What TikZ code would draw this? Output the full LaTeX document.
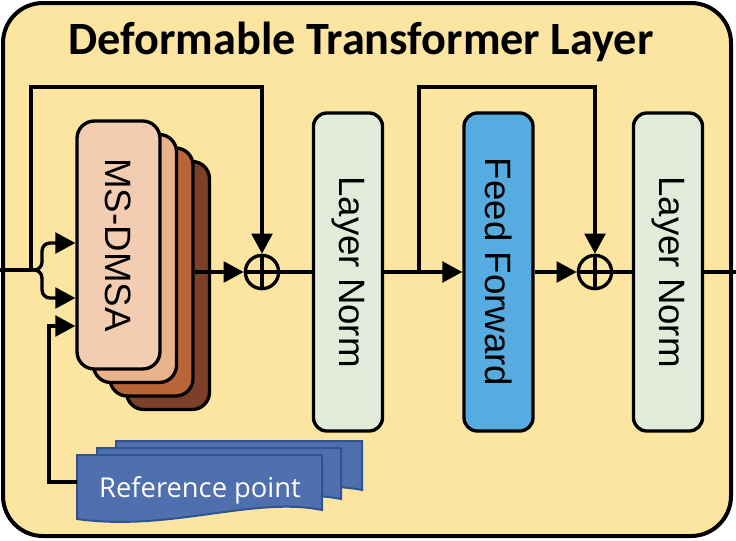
\documentclass[tikz,border=0pt]{standalone}
\usepackage{fontspec}
\setmainfont{Liberation Sans}
\newfontfamily\titlefont{Carlito}
\newfontfamily\reffont{Open Sans}
\usepackage{graphicx}
\usetikzlibrary{arrows.meta}
\definecolor{bg}{HTML}{FBE5A1}
\definecolor{msA}{HTML}{F3CDB2}
\definecolor{msB}{HTML}{E9B48B}
\definecolor{msC}{HTML}{B96538}
\definecolor{msD}{HTML}{7B4027}
\definecolor{lnfill}{HTML}{E2EBD9}
\definecolor{fffill}{HTML}{56ACE0}
\definecolor{reffill}{HTML}{4F6FAF}
\definecolor{refdraw}{HTML}{2F5494}
\tikzset{
  conn/.style={line width=2.5pt},
  arr/.style={conn,-{Triangle[length=15pt,width=15.5pt]}},
  lnbox/.style={draw,line width=2.5pt,rounded corners=10pt,fill=lnfill,
    minimum width=51.75pt,minimum height=238.5pt,inner sep=0pt,
    font=\fontsize{27.5}{30}\selectfont},
  msbox/.style={draw,line width=2.5pt,rounded corners=13pt,
    minimum width=62.25pt,minimum height=186pt,inner sep=0pt,
    font=\fontsize{27.5}{30}\selectfont},
  plusnode/.style={circle,draw,line width=2.5pt,minimum size=25pt,inner sep=0pt},
  refbox/.style={fill=reffill,draw=refdraw,line width=1.5pt,line join=miter},
}
\newcommand\docbox[4]{%
  \filldraw[refbox] (#1,#2) -- (#3,#2) -- (#3,#4-9)
    .. controls ({#3-0.28*(#3-#1)},#4-23) and ({#1+0.38*(#3-#1)},#4+13) .. (#1,#4) -- cycle;}
\begin{document}
\begin{tikzpicture}[x=0.75pt,y=-0.75pt]
\useasboundingbox (0,0) rectangle (736,540);
% frame
\draw[line width=3pt,fill=bg,rounded corners=30pt] (3,3) rectangle (731,536);
\node[anchor=base,font=\titlefont\bfseries\fontsize{34.7}{40}\selectfont] (title) at (361,54) {Deformable Transformer Layer};
% MS-DMSA stack
\node[msbox,fill=msD] (ms4) at (168,285.5) {};
\node[msbox,fill=msC] (ms3) at (151.5,272) {};
\node[msbox,fill=msB] (ms2) at (135,258.5) {};
\node[msbox,fill=msA] (ms1) at (118.5,245) {\rotatebox{-90}{MS-DMSA}};
% reference point stack
\docbox{116}{441}{362}{499}
\docbox{97}{448}{341}{508}
\docbox{77}{455}{322}{519}
\node[anchor=base,text=white,font=\reffont\fontsize{20.5}{24}\selectfont] (rp) at (200,497) {Reference point};
% main boxes
\node[lnbox] (ln1) at (348,272) {\rotatebox{-90}{Layer Norm}};
\node[lnbox,fill=fffill] (ff) at (498.5,272) {\rotatebox{-90}{Feed Forward}};
\node[lnbox] (ln2) at (668,272) {\rotatebox{-90}{Layer Norm}};
% adders
\node[plusnode] (p1) at (262,272) {};
\draw[conn] (p1.north) -- (p1.south) (p1.west) -- (p1.east);
\node[plusnode] (p2) at (595,272) {};
\draw[conn] (p2.north) -- (p2.south) (p2.west) -- (p2.east);
% coordinates
\coordinate (in) at (0,270);
\coordinate (j1) at (31,270);
\coordinate (t1) at (31,87);
\coordinate (bu) at (42,243);
\coordinate (bd) at (42,298);
\coordinate (rpl) at (77,482);
\coordinate (rl) at (49,482);
\coordinate (rt) at (49,326);
\coordinate (j2) at (419,272);
\coordinate (t2) at (419,87);
\coordinate (out) at (736,272);
% connectors
\draw[conn] (in) -- (j1);
\draw[arr] (j1) -- (t1) -| (p1.north);
\draw[arr,rounded corners=6pt] (j1) -- (bu |- j1) -- (bu) -- (bu -| ms1.west);
\draw[arr,rounded corners=6pt] (j1) -- (bd |- j1) -- (bd) -- (bd -| ms1.west);
\draw[arr] (rpl) -- (rl) -- (rt) -- (rt -| ms1.west);
\draw[arr] (ms3) -- (p1);
\draw[conn] (p1) -- (ln1);
\draw[arr] (ln1) -- (ff);
\draw[arr] (j2) -- (t2) -| (p2.north);
\draw[arr] (ff) -- (p2);
\draw[conn] (p2) -- (ln2);
\draw[conn] (ln2) -- (out);
\end{tikzpicture}
\end{document}
